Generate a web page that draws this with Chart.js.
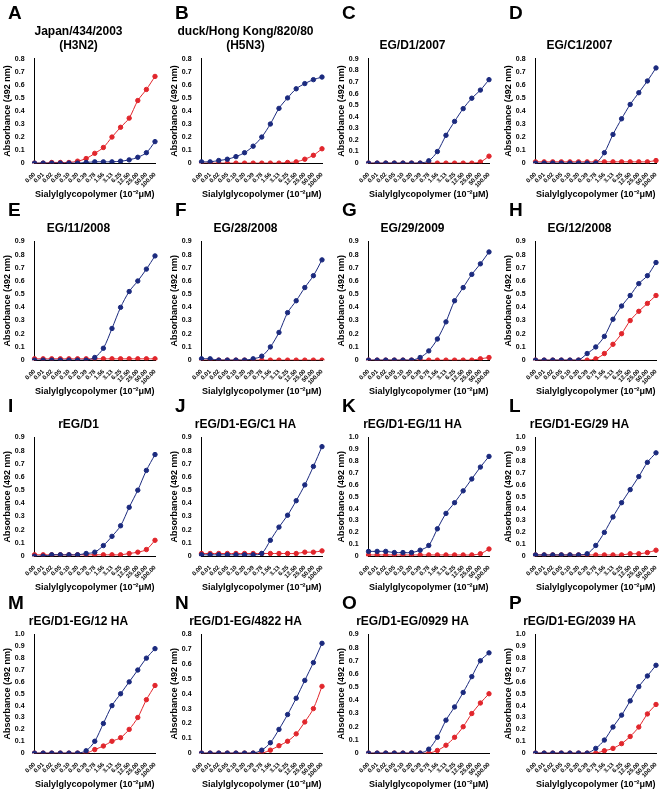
<!DOCTYPE html>
<html><head><meta charset="utf-8">
<script src="https://cdn.jsdelivr.net/npm/chart.js@4"></script>
<style>
body{margin:0;background:#fff;font-family:"Liberation Sans",Arial,sans-serif}
#wrap{position:relative;width:668px;height:800px}
.cell{position:absolute;width:167px;height:197px}
.cell canvas{position:absolute;left:0;top:0}
.let{position:absolute;left:8px;top:2px;font:bold 19px "Liberation Sans",Arial,sans-serif}
</style></head><body><div id="wrap"></div>
<script>
var concs = ["0.00","0.01","0.02","0.05","0.10","0.20","0.39","0.78","1.56","3.13","6.25","12.50","25.00","50.00","100.00"];
var letters = ["A","B","C","D","E","F","G","H","I","J","K","L","M","N","O","P"];
var titles = [["Japan/434/2003","(H3N2)"],["duck/Hong Kong/820/80","(H5N3)"],["","EG/D1/2007"],["","EG/C1/2007"],
  "EG/11/2008","EG/28/2008","EG/29/2009","EG/12/2008",
  "rEG/D1","rEG/D1-EG/C1 HA","rEG/D1-EG/11 HA","rEG/D1-EG/29 HA",
  "rEG/D1-EG/12 HA","rEG/D1-EG/4822 HA","rEG/D1-EG/0929 HA","rEG/D1-EG/2039 HA"];
var yMax = [0.8,0.8,0.9,0.8, 0.9,0.9,0.9,0.9, 0.9,0.9,1.0,1.0, 1.0,0.8,0.9,1.0];
var blue = [
 [0,0,0,0,0,0,0.005,0.01,0.01,0.01,0.015,0.025,0.045,0.08,0.165],
 [0.01,0.01,0.02,0.03,0.05,0.08,0.13,0.2,0.3,0.42,0.5,0.57,0.61,0.64,0.66],
 [0,0,0,0,0,0,0,0.02,0.1,0.24,0.36,0.47,0.56,0.63,0.72],
 [0,0,0,0,0,0,0,0,0.08,0.22,0.34,0.45,0.54,0.63,0.73],
 [0,0,0,0,0,0,0,0.02,0.09,0.24,0.4,0.52,0.6,0.69,0.79],
 [0.01,0.01,0,0,0,0,0.01,0.03,0.1,0.21,0.36,0.45,0.55,0.64,0.76],
 [0,0,0,0,0,0,0.02,0.07,0.16,0.29,0.45,0.55,0.65,0.73,0.82],
 [0,0,0,0,0,0,0.05,0.1,0.18,0.31,0.41,0.49,0.58,0.64,0.74],
 [0,0,0.01,0.01,0.01,0.01,0.02,0.03,0.08,0.15,0.23,0.37,0.5,0.65,0.77],
 [0.01,0.01,0.01,0.01,0.01,0.01,0.01,0.02,0.12,0.22,0.31,0.42,0.54,0.68,0.83],
 [0.04,0.04,0.04,0.03,0.03,0.03,0.05,0.09,0.23,0.36,0.45,0.55,0.65,0.75,0.84],
 [0.01,0.01,0.01,0.01,0.01,0.01,0.02,0.09,0.2,0.33,0.45,0.56,0.67,0.79,0.87],
 [0,0,0,0,0,0,0.02,0.1,0.25,0.4,0.5,0.6,0.7,0.8,0.88],
 [0,0,0,0,0,0,0,0.02,0.07,0.16,0.26,0.37,0.49,0.61,0.74],
 [0,0,0,0,0,0,0,0.03,0.12,0.25,0.35,0.46,0.58,0.7,0.76],
 [0,0,0,0,0,0,0,0.04,0.11,0.22,0.32,0.44,0.56,0.65,0.74]];
var red = [
 [0,0,0.005,0.005,0.005,0.015,0.035,0.075,0.12,0.2,0.275,0.345,0.48,0.565,0.665],
 [0,0,0,0,0,0,0,0,0,0,0.005,0.01,0.03,0.06,0.11],
 [0,0,0,0,0,0,0,0,0,0,0,0,0,0.01,0.06],
 [0.01,0.01,0.01,0.01,0.01,0.01,0.01,0.01,0.01,0.01,0.01,0.01,0.01,0.01,0.02],
 [0.01,0.01,0.01,0.01,0.01,0.01,0.01,0.01,0.01,0.01,0.01,0.01,0.01,0.01,0.01],
 [0,0,0,0,0,0,0,0,0,0,0,0,0,0,0],
 [0,0,0,0,0,0,0,0,0,0,0,0,0,0.01,0.02],
 [0,0,0,0,0,0,0,0.01,0.05,0.12,0.2,0.3,0.37,0.43,0.49],
 [0.01,0.01,0.01,0.01,0.01,0.01,0.01,0.01,0.01,0.01,0.01,0.02,0.03,0.05,0.12],
 [0.02,0.02,0.02,0.02,0.02,0.02,0.02,0.02,0.02,0.02,0.02,0.02,0.03,0.03,0.04],
 [0.01,0.01,0.01,0.01,0.01,0.01,0.01,0.01,0.01,0.01,0.01,0.01,0.01,0.02,0.06],
 [0.01,0.01,0.01,0.01,0.01,0.01,0.01,0.01,0.01,0.01,0.01,0.02,0.02,0.03,0.05],
 [0,0,0,0,0,0,0,0.03,0.06,0.1,0.13,0.2,0.3,0.45,0.57],
 [0,0,0,0,0,0,0,0,0.02,0.05,0.08,0.13,0.21,0.3,0.45],
 [0,0,0,0,0,0,0,0,0.02,0.06,0.12,0.2,0.3,0.38,0.45],
 [0,0,0,0,0,0,0,0,0.02,0.04,0.08,0.14,0.22,0.33,0.41]];
var rowTop = [0,197,393,590];

Chart.defaults.font.family = "Liberation Sans";
Chart.defaults.color = "#000";
var wrap = document.getElementById("wrap");
for (var i = 0; i < 16; i++) {
  var cell = document.createElement("div");
  cell.className = "cell";
  cell.style.left = (i % 4) * 167 + "px";
  cell.style.top = rowTop[Math.floor(i / 4)] + "px";
  var cv = document.createElement("canvas");
  cv.width = 167; cv.height = 200;
  cell.appendChild(cv);
  var l = document.createElement("div");
  l.className = "let"; l.textContent = letters[i];
  cell.appendChild(l);
  wrap.appendChild(cell);
  var ds = function (d, c) {
    return {data: d, borderColor: c, backgroundColor: c, borderWidth: 1, pointRadius: 2.2, tension: 0.3};
  };
  new Chart(cv, {
    type: "line",
    data: {labels: concs, datasets: [ds(blue[i], "#1b2a7e"), ds(red[i], "#e1262c")]},
    options: {
      responsive: false, animation: false,
      layout: {padding: {top: 24, right: 12, left: 2, bottom: 0}},
      plugins: {legend: {display: false}, tooltip: {enabled: false},
        title: {display: true, text: titles[i], font: {size: 12, weight: "bold"}, padding: {top: 0, bottom: 6}}},
      scales: {
        x: {grid: {display: false, drawTicks: true}, border: {color: "#000"},
          ticks: {font: {size: 6, weight: "bold"}, minRotation: 45, maxRotation: 45, autoSkip: false, padding: 0},
          title: {display: true, text: "Sialylglycopolymer (10\u207B\u00B2\u03BCM)", font: {size: 9, weight: "bold"}, padding: 0}},
        y: {min: 0, max: yMax[i], grid: {display: false}, border: {color: "#000"},
          ticks: {stepSize: 0.1, font: {size: 7, weight: "bold"}, padding: 2,
            callback: function (v) { return v === 0 ? "0" : v.toFixed(1); }},
          title: {display: true, text: "Absorbance (492 nm)", font: {size: 9, weight: "bold"}, padding: 0}}
      }
    }
  });
}
</script></body></html>
